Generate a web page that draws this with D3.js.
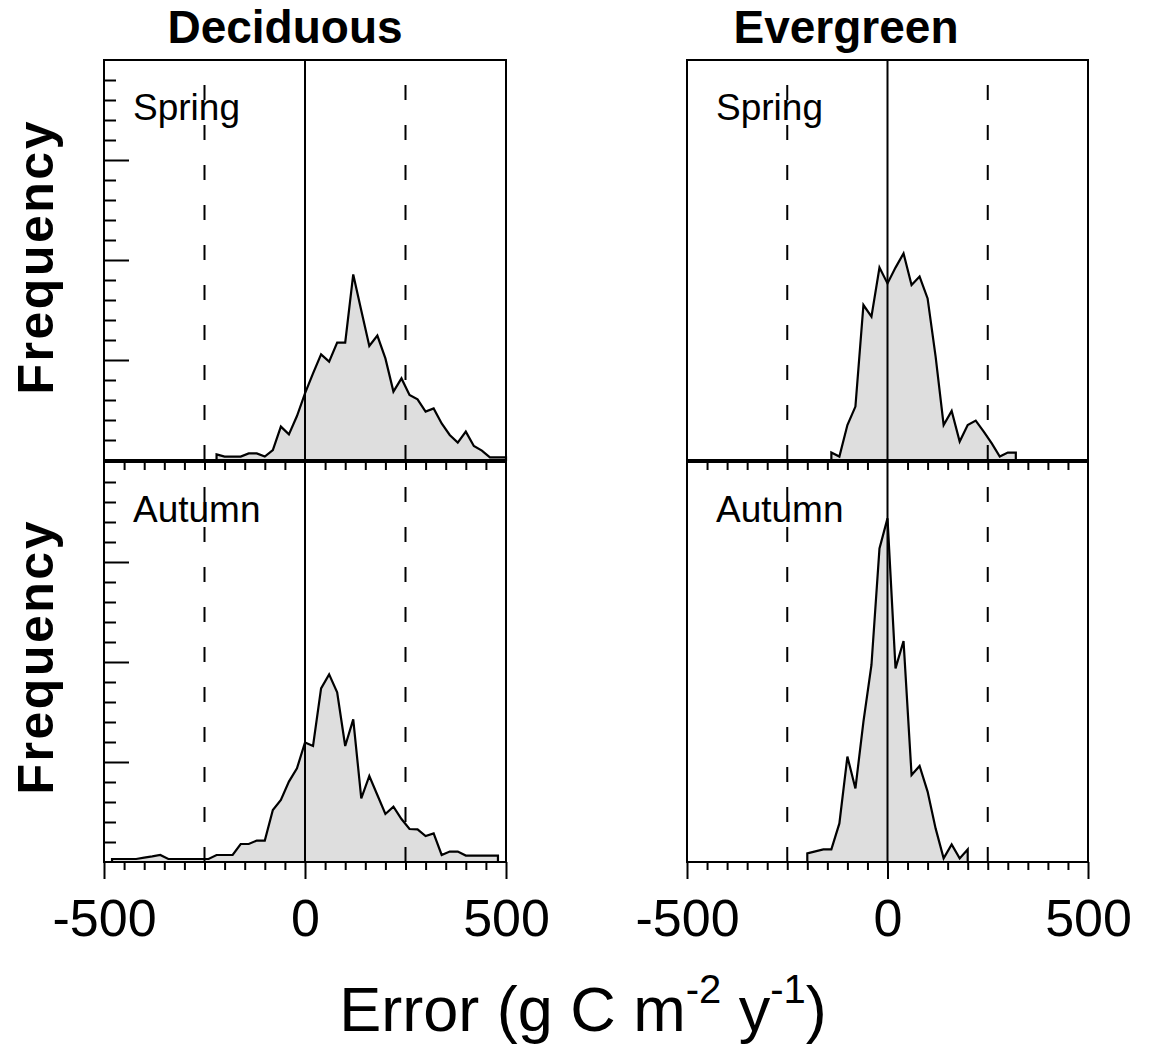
<!DOCTYPE html>
<html>
  <head>
    <meta charset="utf-8">
    <title>Error histograms</title>
    <script src="https://cdn.jsdelivr.net/npm/d3@7"></script>
    <style>
      body { margin: 0; background: #fff; }
      #canvas { font-family: "Liberation Sans", Arial, Helvetica, sans-serif; }
    </style>
  </head>

  <body>
    <svg id="canvas" width="1150" height="1046"></svg>
    <script>
      // data: [error bin, frequency]
      forestTypes = ["Deciduous", "Evergreen"];
      seasons = ["Spring", "Autumn"];
      deciduousSpring = [
        [-220, 0.28], [-200, 0.17], [-180, 0.17], [-160, 0.17], [-140, 0.33], [-120, 0.33],
        [-100, 0.17], [-80, 0.5], [-60, 1.67], [-40, 1.28], [-20, 2.2], [0, 3.33],
        [20, 4.33], [40, 5.28], [60, 4.92], [80, 5.87], [100, 5.87], [120, 9.28],
        [140, 7.47], [160, 5.7], [180, 6.22], [200, 5.08], [220, 3.42], [240, 4.08],
        [260, 3.25], [280, 3.03], [300, 2.42], [320, 2.58], [340, 1.83], [360, 1.25],
        [380, 0.87], [400, 1.42], [420, 0.7], [440, 0.47], [460, 0.13], [480, 0.13], [500, 0.13]
      ];
      deciduousAutumn = [
        [-480, 0.15], [-460, 0.15], [-440, 0.15], [-420, 0.15], [-400, 0.22], [-380, 0.28],
        [-360, 0.35], [-340, 0.15], [-320, 0.15], [-300, 0.15], [-280, 0.15], [-260, 0.15],
        [-240, 0.15], [-220, 0.35], [-200, 0.35], [-180, 0.35], [-160, 0.9], [-140, 0.9],
        [-120, 1.07], [-100, 1.07], [-80, 2.6], [-60, 3.1], [-40, 4.02], [-20, 4.68],
        [0, 5.98], [20, 5.8], [40, 8.68], [60, 9.38], [80, 8.48], [100, 5.8],
        [120, 7.13], [140, 3.18], [160, 4.3], [180, 3.35], [200, 2.4], [220, 2.77],
        [240, 2.15], [260, 1.65], [280, 1.63], [300, 1.3], [320, 1.43], [340, 0.35],
        [360, 0.52], [380, 0.52], [400, 0.32], [420, 0.32], [440, 0.32], [460, 0.32], [480, 0.32]
      ];
      evergreenSpring = [
        [-140, 0.37], [-120, 0.17], [-100, 1.75], [-80, 2.67], [-60, 7.75], [-40, 7.17],
        [-20, 9.62], [0, 8.83], [20, 9.62], [40, 10.33], [60, 8.75], [80, 9.17],
        [100, 8.08], [120, 5.17], [140, 1.75], [160, 2.45], [180, 0.92], [200, 1.75],
        [220, 1.97], [240, 1.42], [260, 0.83], [280, 0.17], [300, 0.37], [320, 0.37]
      ];
      evergreenAutumn = [
        [-200, 0.43], [-180, 0.53], [-160, 0.63], [-140, 0.63], [-120, 1.93], [-100, 5.27],
        [-80, 3.68], [-60, 7.02], [-40, 9.85], [-20, 15.68], [0, 17.18], [20, 9.68],
        [40, 11.05], [60, 4.35], [80, 4.8], [100, 3.52], [120, 1.68], [140, 0.18],
        [160, 0.88], [180, 0.18], [200, 0.63]
      ];
      xLabels = [-500, 0, 500];
      xMinorTicks = [-450, -400, -350, -300, -250, -200, -150, -100, -50, 50, 100, 150, 200, 250, 300, 350, 400, 450];
      yMajorTicks = [5, 10, 15];
      yMinorTicks = [1, 2, 3, 4, 6, 7, 8, 9, 11, 12, 13, 14, 16, 17, 18, 19];
      boundaries = [-250, 250];

      panels = [
        {type: 0, season: 0, values: deciduousSpring},
        {type: 0, season: 1, values: deciduousAutumn},
        {type: 1, season: 0, values: evergreenSpring},
        {type: 1, season: 1, values: evergreenAutumn}
      ];

      // layout
      colX = [[104, 506], [687, 1088]];
      rowY = [[60, 460], [462, 862]];
      canvas = d3.select("#canvas");

      panels.forEach(function(p) {
        let x = d3.scaleLinear()
          .domain([-500, 500])
          .range(colX[p.type]);
        let y = d3.scaleLinear()
          .domain([0, 20])
          .range([rowY[p.season][1], rowY[p.season][0]]);
        let g = canvas.append("g");

        // histogram outline
        let area = d3.area()
          .x(function(d) { return x(d[0]); })
          .y0(y(0))
          .y1(function(d) { return y(d[1]); });
        g.append("path")
          .datum(p.values)
          .attr("d", area)
          .attr("fill", "#dedede")
          .attr("stroke", "none");

        // zero line and +-250 boundaries
        g.append("line")
          .attr("x1", x(0)).attr("x2", x(0))
          .attr("y1", y(20)).attr("y2", y(0))
          .attr("stroke", "#000")
          .attr("stroke-width", 2);
        g.selectAll(".bound")
            .data(boundaries)
          .enter().append("line")
            .attr("x1", function(d) { return x(d); })
            .attr("x2", function(d) { return x(d); })
            .attr("y1", y(20)).attr("y2", y(0))
            .attr("stroke", "#000")
            .attr("stroke-width", 2)
            .attr("stroke-dasharray", "15,25")
            .attr("stroke-dashoffset", 15);

        g.append("path")
          .datum(p.values)
          .attr("d", area)
          .attr("fill", "none")
          .attr("stroke", "#000")
          .attr("stroke-width", 2.2)
          .attr("stroke-linejoin", "miter");

        // season label
        g.append("text")
          .attr("x", colX[p.type][0] + 29)
          .attr("y", rowY[p.season][0] + 60)
          .attr("font-size", 37)
          .text(seasons[p.season]);

        // y ticks only on the deciduous panels
        if (p.type == 0) {
          let minor = g.append("g")
            .attr("transform", "translate(" + colX[p.type][0] + ",0)")
            .call(d3.axisRight(y).tickValues(yMinorTicks).tickSize(12).tickFormat(""));
          let major = g.append("g")
            .attr("transform", "translate(" + colX[p.type][0] + ",0)")
            .call(d3.axisRight(y).tickValues(yMajorTicks).tickSize(25).tickFormat(""));
          minor.select(".domain").remove();
          major.select(".domain").remove();
        }

        // x ticks
        if (p.season == 1) {
          let top = g.append("g")
            .attr("transform", "translate(0," + rowY[1][0] + ")")
            .call(d3.axisBottom(x).tickValues(xMinorTicks).tickSize(8).tickFormat(""));
          top.select(".domain").remove();
          let bottomMinor = g.append("g")
            .attr("transform", "translate(0," + rowY[1][1] + ")")
            .call(d3.axisBottom(x).tickValues(xMinorTicks).tickSize(8).tickFormat(""));
          bottomMinor.select(".domain").remove();
          let bottomMajor = g.append("g")
            .attr("transform", "translate(0," + rowY[1][1] + ")")
            .call(d3.axisBottom(x).tickValues(xLabels).tickSize(17).tickPadding(20)
              .tickFormat(function(d) { return String(d); }));
          bottomMajor.select(".domain").remove();
          bottomMajor.attr("font-size", 52)
            .attr("font-family", null);
        }
        g.selectAll(".tick line")
          .attr("stroke-width", 2);

        // frame
        g.append("rect")
          .attr("x", colX[p.type][0])
          .attr("y", rowY[p.season][0])
          .attr("width", colX[p.type][1] - colX[p.type][0])
          .attr("height", rowY[p.season][1] - rowY[p.season][0])
          .attr("fill", "none")
          .attr("stroke", "#000")
          .attr("stroke-width", 2);
      });

      // column titles
      canvas.selectAll(".title")
          .data(forestTypes)
        .enter().append("text")
          .attr("x", function(d, i) { return i == 0 ? 285 : 846; })
          .attr("y", 43)
          .attr("text-anchor", "middle")
          .attr("font-size", 46)
          .attr("font-weight", "bold")
          .text(function(d) { return d; });

      // y labels
      canvas.selectAll(".ylab")
          .data(seasons)
        .enter().append("text")
          .attr("transform", function(d, i) { return "translate(53," + (i == 0 ? 258 : 658) + ") rotate(-90)"; })
          .attr("text-anchor", "middle")
          .attr("font-size", 50)
          .attr("font-weight", "bold")
          .attr("textLength", 273)
          .attr("lengthAdjust", "spacing")
          .text("Frequency");

      // x axis title
      let xTitle = canvas.append("text")
        .attr("x", 583)
        .attr("y", 1031)
        .attr("text-anchor", "middle")
        .attr("font-size", 63);
      xTitle.append("tspan").text("Error (g C m");
      xTitle.append("tspan").attr("font-size", 40).attr("dy", -28).text("-2");
      xTitle.append("tspan").attr("dy", 28).text(" y");
      xTitle.append("tspan").attr("font-size", 40).attr("dy", -28).text("-1");
      xTitle.append("tspan").attr("dy", 28).text(")");
    </script>
  </body>
</html>
